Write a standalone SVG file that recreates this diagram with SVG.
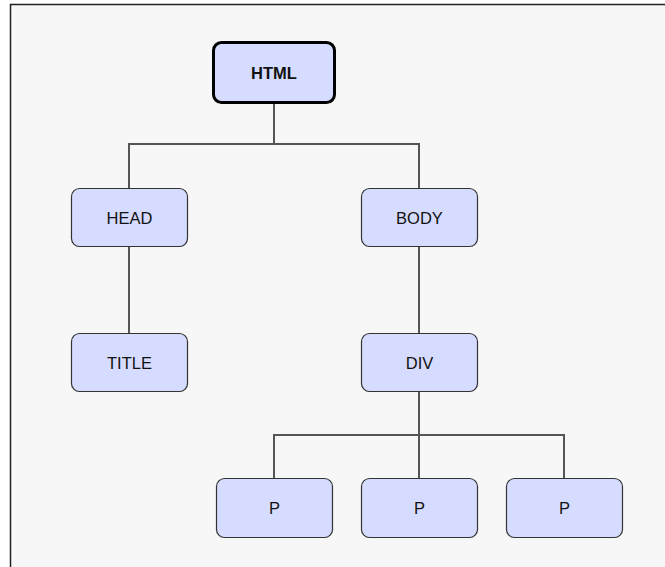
<svg xmlns="http://www.w3.org/2000/svg" width="665" height="567" viewBox="0 0 665 567">
<style>
.node rect{fill:#d6dcff;stroke:#333;stroke-width:1.2}
.node text{font-family:"Liberation Sans",Arial,sans-serif;font-size:16.5px;fill:#111;text-anchor:middle;dominant-baseline:central}
#html rect{stroke:#000;stroke-width:3}
#html text{font-weight:bold}
.edges path{fill:none;stroke:#555;stroke-width:2}
</style>
<rect width="665" height="567" fill="#fff"/>
<rect x="10.5" y="4.5" width="700" height="600" fill="#f7f7f7" stroke="#222" stroke-width="1.5"/>
<g class="edges">
<path d="M274 103V144H129V188"/>
<path d="M274 144H419V188"/>
<path d="M129 247V333"/>
<path d="M419 247V333"/>
<path d="M419 392V478"/>
<path d="M274 478V435H564V478"/>
</g>
<g class="node" id="html"><rect x="213.5" y="42.5" width="121" height="60" rx="8"/><text x="274" y="73">HTML</text></g>
<g class="node" id="head"><rect x="71.5" y="188.5" width="116" height="58" rx="8"/><text x="129.5" y="217.5">HEAD</text></g>
<g class="node" id="body"><rect x="361.5" y="188.5" width="116" height="58" rx="8"/><text x="419.5" y="217.5">BODY</text></g>
<g class="node" id="title"><rect x="71.5" y="333.5" width="116" height="58" rx="8"/><text x="129.5" y="362.5">TITLE</text></g>
<g class="node" id="div"><rect x="361.5" y="333.5" width="116" height="58" rx="8"/><text x="419.5" y="362.5">DIV</text></g>
<g class="node" id="p1"><rect x="216.5" y="478.5" width="116" height="59" rx="8"/><text x="274.5" y="507.5">P</text></g>
<g class="node" id="p2"><rect x="361.5" y="478.5" width="116" height="59" rx="8"/><text x="419.5" y="507.5">P</text></g>
<g class="node" id="p3"><rect x="506.5" y="478.5" width="116" height="59" rx="8"/><text x="564.5" y="507.5">P</text></g>
</svg>
